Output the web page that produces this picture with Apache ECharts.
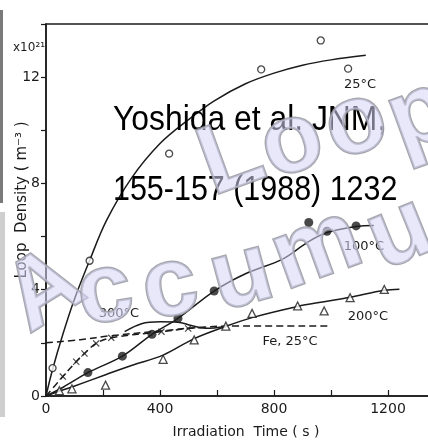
<!DOCTYPE html>
<html>
<head>
<meta charset="utf-8">
<script src="https://cdn.jsdelivr.net/npm/echarts@6/dist/echarts.min.js"></script>
<style>
  html, body { margin: 0; padding: 0; background: #fff; }
  #chart { width: 428px; height: 441px; }
</style>
</head>
<body>
<div id="chart"></div>
<script>
// Tick labels shown on each axis
const xTickLabels = [0, 400, 800, 1200];
const yTickLabels = [0, 4, 8, 12];

// Loop density (x10^21 m^-3) against irradiation time (s)
// 25 °C: open circles and fitted curve
const pts25C = [[23, 1.05], [153, 5.09], [432, 9.12], [755, 12.29], [964, 13.38], [1060, 12.32]];
const curve25C = [[0, 0], [23, 1.0], [60, 2.35], [100, 3.65], [153, 5.1], [212, 6.6], [300, 8.2], [400, 9.5], [500, 10.4], [589, 11.1], [700, 11.75], [800, 12.15], [900, 12.45], [1000, 12.65], [1122, 12.82]];

// 100 °C: filled circles and fitted curve
const pts100C = [[147, 0.88], [268, 1.5], [372, 2.32], [463, 2.92], [590, 3.95], [922, 6.53], [986, 6.2], [1088, 6.4]];
const curve100C = [[0, 0], [60, 0.33], [147, 0.88], [268, 1.5], [372, 2.32], [463, 2.92], [590, 3.95], [700, 4.6], [830, 5.15], [920, 5.8], [986, 6.15], [1088, 6.38], [1150, 6.42]];

// 200 °C: open triangles and fitted curve
const pts200C = [[47, 0.2], [91, 0.27], [209, 0.41], [411, 1.38], [520, 2.11], [631, 2.63], [723, 3.11], [883, 3.39], [976, 3.2], [1067, 3.7], [1187, 4.01]];
const curve200C = [[0, 0], [47, 0.18], [91, 0.34], [209, 0.8], [300, 1.15], [411, 1.54], [520, 2.16], [631, 2.62], [723, 2.95], [883, 3.37], [976, 3.55], [1067, 3.72], [1187, 3.98], [1240, 4.02]];

// 300 °C: crosses joined by a dashed line, plus the solid guide curve
const pts300C = [[59, 0.73], [106, 1.29], [135, 1.6], [176, 1.98], [229, 2.19], [405, 2.42], [499, 2.54]];
const line300C = [[0, 0], [59, 0.73], [106, 1.29], [135, 1.6], [176, 1.98], [229, 2.19], [405, 2.42], [499, 2.54], [560, 2.58]];
const guide300C = [[276, 2.42], [335, 2.72], [400, 2.79], [462, 2.78], [510, 2.65], [560, 2.55], [631, 2.62]];

// Fe, 25 °C: dashed reference curve
const curveFe25C = [[0, 2.0], [120, 2.12], [229, 2.27], [405, 2.45], [500, 2.55], [631, 2.63], [993, 2.63]];

const INK = '#1b1b1b';
const LABEL_FONT = '"DejaVu Sans", sans-serif';

const chart = echarts.init(document.getElementById('chart'), null, { renderer: 'canvas' });

// Watermark lettering laid out along two arcs
const watermark = [
  { ch: 'L', x: 232, y: 160, r: 20 },
  { ch: 'o', x: 292, y: 144, r: 18 },
  { ch: 'o', x: 356, y: 125, r: 18 },
  { ch: 'p', x: 420, y: 116, r: 20 },
  { ch: 'A', x: 45, y: 292, r: 32 },
  { ch: 'c', x: 105, y: 294, r: 12 },
  { ch: 'c', x: 170, y: 288, r: 12 },
  { ch: 'u', x: 242, y: 277, r: 15 },
  { ch: 'm', x: 317, y: 250, r: 20 },
  { ch: 'u', x: 400, y: 234, r: 22 }
];

const graphics = [
  // scanned page edge on the left
  { type: 'rect', left: 0, top: 10, shape: { width: 3, height: 193 }, style: { fill: '#7a7a7a' }, z: 1 },
  { type: 'rect', left: 0, top: 212, shape: { width: 5, height: 205 }, style: { fill: '#cfcfcf' }, z: 1 },
  // axis titles and multiplier
  { type: 'text', x: 29, y: 48, style: { text: 'x10²¹', font: '12px ' + LABEL_FONT, fill: INK, textAlign: 'center', textVerticalAlign: 'middle' }, z: 5 },
  { type: 'text', x: 22, y: 200, rotation: Math.PI / 2, style: { text: 'Loop  Density ( m⁻³ )', font: '15px ' + LABEL_FONT, fill: INK, textAlign: 'center', textVerticalAlign: 'middle' }, z: 5 },
  { type: 'text', x: 246, y: 432, style: { text: 'Irradiation  Time ( s )', font: '14px ' + LABEL_FONT, fill: INK, textAlign: 'center', textVerticalAlign: 'middle' }, z: 5 },
  // curve labels
  { type: 'text', x: 360, y: 85, style: { text: '25°C', font: '13px ' + LABEL_FONT, fill: INK, textAlign: 'center', textVerticalAlign: 'middle' }, z: 5 },
  { type: 'text', x: 364, y: 247, style: { text: '100°C', font: '13px ' + LABEL_FONT, fill: INK, textAlign: 'center', textVerticalAlign: 'middle' }, z: 5 },
  { type: 'text', x: 368, y: 317, style: { text: '200°C', font: '13px ' + LABEL_FONT, fill: INK, textAlign: 'center', textVerticalAlign: 'middle' }, z: 5 },
  { type: 'text', x: 119, y: 314, style: { text: '300°C', font: '13px ' + LABEL_FONT, fill: INK, textAlign: 'center', textVerticalAlign: 'middle' }, z: 5 },
  { type: 'text', x: 290, y: 342, style: { text: 'Fe, 25°C', font: '13px ' + LABEL_FONT, fill: INK, textAlign: 'center', textVerticalAlign: 'middle' }, z: 5 },
  // citation
  { type: 'text', x: 113, y: 120.5, scaleX: 0.91, style: { text: 'Yoshida et al. JNM,', font: '35px "Liberation Sans", Arial, sans-serif', fill: '#000', textAlign: 'left', textVerticalAlign: 'middle' }, z: 6 },
  { type: 'text', x: 113, y: 190.5, scaleX: 0.87, style: { text: '155-157 (1988) 1232', font: '35px "Liberation Sans", Arial, sans-serif', fill: '#000', textAlign: 'left', textVerticalAlign: 'middle' }, z: 6 }
];

watermark.forEach(function (w) {
  graphics.push({
    type: 'text', x: w.x, y: w.y, rotation: w.r * Math.PI / 180,
    style: {
      text: w.ch, font: 'bold 98px "Liberation Sans", Arial, sans-serif',
      fill: 'rgba(214,214,246,0.55)', stroke: 'rgba(150,150,160,0.85)', lineWidth: 2.5,
      textAlign: 'center', textVerticalAlign: 'middle'
    },
    z: 20
  });
});

function curve(data, dashed) {
  return {
    type: 'line', data: data, smooth: 0.35, symbol: 'none', silent: true,
    lineStyle: { color: INK, width: 1.5, type: dashed ? [7, 4] : 'solid' }, z: 3
  };
}

function marks(data, symbol, size, filled) {
  return {
    type: 'scatter', data: data, symbol: symbol, symbolSize: size, silent: true,
    itemStyle: { color: filled ? INK : '#fff', borderColor: INK, borderWidth: filled ? 0 : 1.3 }, z: 4
  };
}

const crossPath = 'path://M0,1.2L1.2,0L5,3.8L8.8,0L10,1.2L6.2,5L10,8.8L8.8,10L5,6.2L1.2,10L0,8.8L3.8,5Z';

chart.setOption({
  animation: false,
  backgroundColor: '#fff',
  // the frame runs past the right edge of the page
  grid: {
    left: 46, top: 24, width: 399, height: 372, outerBoundsMode: 'none',
    show: true, borderColor: INK, borderWidth: 1.5, backgroundColor: 'transparent'
  },
  xAxis: {
    type: 'value', min: 0, max: 1400, interval: 200,
    axisLine: { lineStyle: { color: INK, width: 1.5 } },
    axisTick: { inside: true, length: 6, lineStyle: { color: INK, width: 1.2 } },
    splitLine: { show: false },
    axisLabel: {
      margin: 6, color: INK, fontSize: 14, fontFamily: LABEL_FONT,
      formatter: function (v) { return xTickLabels.indexOf(v) >= 0 ? String(v) : ''; }
    }
  },
  yAxis: {
    type: 'value', min: 0, max: 14, interval: 2,
    axisLine: { show: true, lineStyle: { color: INK, width: 1.5 } },
    axisTick: { show: true, inside: false, length: 5, lineStyle: { color: INK, width: 1.2 } },
    splitLine: { show: false },
    axisLabel: {
      margin: 6, color: INK, fontSize: 14, fontFamily: LABEL_FONT,
      formatter: function (v) { return yTickLabels.indexOf(v) >= 0 ? String(v) : ''; }
    }
  },
  series: [
    curve(curve25C, false),
    curve(curve100C, false),
    curve(curve200C, false),
    curve(line300C, true),
    curve(guide300C, false),
    curve(curveFe25C, true),
    marks(pts25C, 'circle', 7, false),
    marks(pts100C, 'circle', 9, true),
    marks(pts200C, 'triangle', 8, false),
    marks(pts300C, crossPath, 7, true)
  ],
  graphic: graphics
});
</script>
</body>
</html>
